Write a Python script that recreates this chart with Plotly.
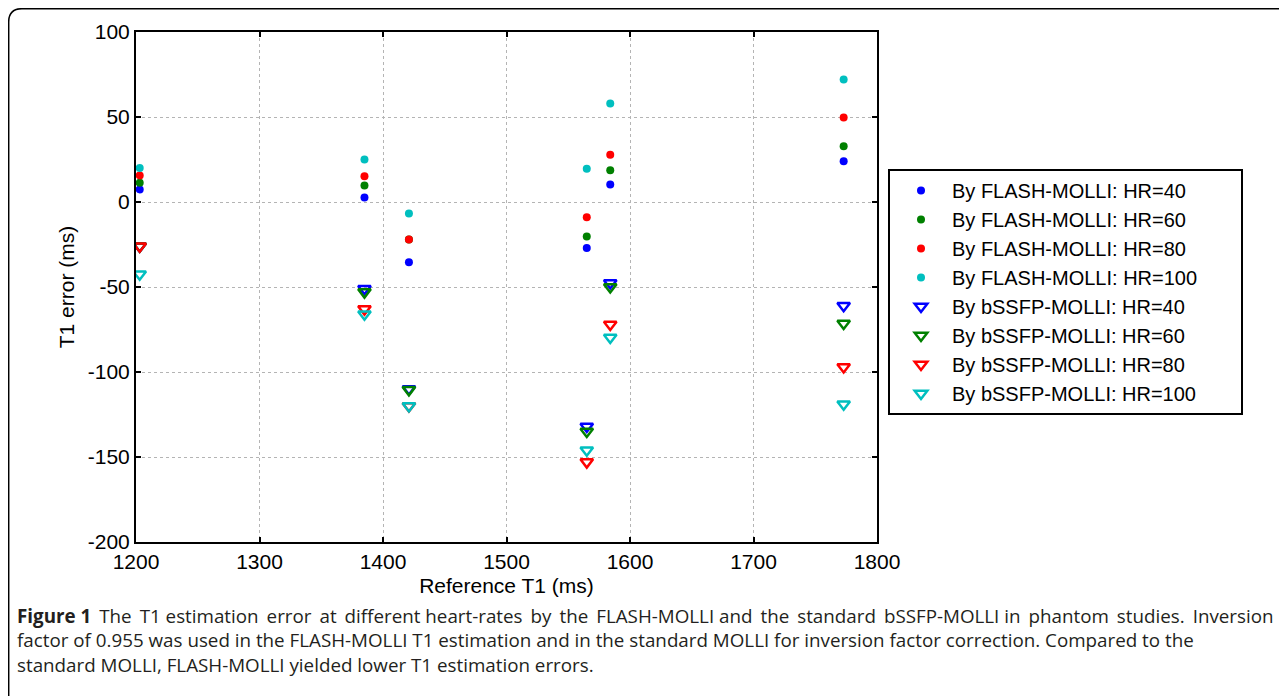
import plotly.graph_objects as go

# ---- data ----
reference_t1 = [1203, 1385, 1421, 1565, 1584, 1773]

flash_hr40 = [7.4, 2.6, -35.4, -27.0, 10.3, 24.0]
flash_hr60 = [11.3, 9.7, -22.0, -20.3, 18.7, 32.8]
flash_hr80 = [15.6, 15.2, -22.0, -9.0, 27.8, 49.7]
flash_hr100 = [20.0, 25.0, -6.8, 19.5, 58.0, 72.0]

bssfp_hr40 = [-26.0, -51.0, -110.0, -132.0, -47.6, -61.0]
bssfp_hr60 = [-26.0, -53.0, -110.5, -135.0, -50.0, -71.5]
bssfp_hr80 = [-26.0, -63.0, -120.0, -153.0, -72.0, -97.0]
bssfp_hr100 = [-42.5, -66.0, -120.0, -146.0, -79.7, -119.0]

x_ticks = [1200, 1300, 1400, 1500, 1600, 1700, 1800]
x_tick_labels = ["1200", "1300", "1400", "1500", "1600", "1700", "1800"]
y_ticks = [-200, -150, -100, -50, 0, 50, 100]
y_tick_labels = ["-200", "-150", "-100", "-50", "0", "50", "100"]

flash_series = [("By FLASH-MOLLI: HR=40", flash_hr40, "#0000ff"),
                ("By FLASH-MOLLI: HR=60", flash_hr60, "#008000"),
                ("By FLASH-MOLLI: HR=80", flash_hr80, "#ff0000"),
                ("By FLASH-MOLLI: HR=100", flash_hr100, "#00bfbf")]
bssfp_series = [("By bSSFP-MOLLI: HR=40", bssfp_hr40, "#0000ff"),
                ("By bSSFP-MOLLI: HR=60", bssfp_hr60, "#008000"),
                ("By bSSFP-MOLLI: HR=80", bssfp_hr80, "#ff0000"),
                ("By bSSFP-MOLLI: HR=100", bssfp_hr100, "#00bfbf")]

caption_lines = [
    "<b>Figure 1</b> The T1 estimation error at different heart-rates by the FLASH-MOLLI and the standard bSSFP-MOLLI in phantom studies. Inversion",
    "factor of 0.955 was used in the FLASH-MOLLI T1 estimation and in the standard MOLLI for inversion factor correction. Compared to the",
    "standard MOLLI, FLASH-MOLLI yielded lower T1 estimation errors.",
]

# ---- layout geometry (page pixels; the page body adds an 8 px offset) ----
OFF = 8
W, H = 1287 - OFF, 696 - OFF
L, R, T, B = 136 - OFF, 877 - OFF, 32 - OFF, 542 - OFF


def px(xp):
    return (xp - OFF - L) / (R - L)


def py(yp):
    return (B - (yp - OFF)) / (B - T)


fig = go.Figure()
pad = "\u00a0" * 7
for name, vals, col in flash_series:
    fig.add_trace(go.Scatter(x=reference_t1, y=vals, mode="markers", name=name + pad,
                             marker=dict(symbol="circle", size=8, color=col,
                                         line=dict(width=0))))
for name, vals, col in bssfp_series:
    fig.add_trace(go.Scatter(x=reference_t1, y=vals, mode="markers", name=name + pad,
                             marker=dict(symbol="triangle-down-open", size=11,
                                         color=col, line=dict(width=2.5, color=col))))

axis_common = dict(showline=True, linecolor="black", linewidth=2, mirror="ticks",
                   ticks="inside", ticklen=5, tickwidth=2, tickcolor="black",
                   showgrid=True, gridcolor="#b4b4b4", gridwidth=1, griddash="dot",
                   zeroline=False,
                   tickfont=dict(family="Liberation Sans, Arial", size=21, color="black"))

fig.update_xaxes(range=[1200, 1800], tickvals=x_ticks, ticktext=x_tick_labels,
                 title=dict(text="Reference T1 (ms)", standoff=6,
                            font=dict(family="Liberation Sans, Arial", size=21, color="black")),
                 **axis_common)
fig.update_yaxes(range=[-200, 100], tickvals=y_ticks, ticktext=y_tick_labels,
                 title=dict(text="T1 error (ms)", standoff=7,
                            font=dict(family="Liberation Sans, Arial", size=21, color="black")),
                 **axis_common)

shapes = [dict(type="path", xref="paper", yref="paper",
               path="M %f %f L %f %f Q %f %f %f %f L %f %f L %f %f" % (
                   px(8.7), py(700), px(8.7), py(22), px(8.7), py(8.7), px(22), py(8.7),
                   px(1280), py(8.7), px(1284), py(12)),
               line=dict(color="black", width=1.5))]

# justify the first caption line a little by adding thin spaces to some gaps
words = caption_lines[0].split(" ")
n_gaps = len(words) - 1
n_extra = 14
first = words[0]
for i in range(n_gaps):
    extra = (i + 1) * n_extra // n_gaps > i * n_extra // n_gaps
    first += " " + ("\u2009" if extra else "") + words[i + 1]
caption_text = "<br>".join([first] + caption_lines[1:])

annotations = [dict(xref="paper", yref="paper", x=px(15), y=py(640.5),
                    xanchor="left", yanchor="middle", showarrow=False,
                    text=caption_text, align="left",
                    font=dict(family="Open Sans", size=18.8, color="#231f20"))]

fig.update_layout(
    width=W, height=H, autosize=False,
    margin=dict(l=L, r=W - R, t=T, b=H - B),
    plot_bgcolor="white", paper_bgcolor="white",
    showlegend=True,
    legend=dict(x=px(888), y=py(169), xanchor="left", yanchor="top",
                bordercolor="black", borderwidth=2, bgcolor="white",
                font=dict(family="Liberation Sans, Arial", size=20, color="black"),
                itemwidth=52, tracegroupgap=0),
    shapes=shapes, annotations=annotations,
)

fig.write_html("out.html")
